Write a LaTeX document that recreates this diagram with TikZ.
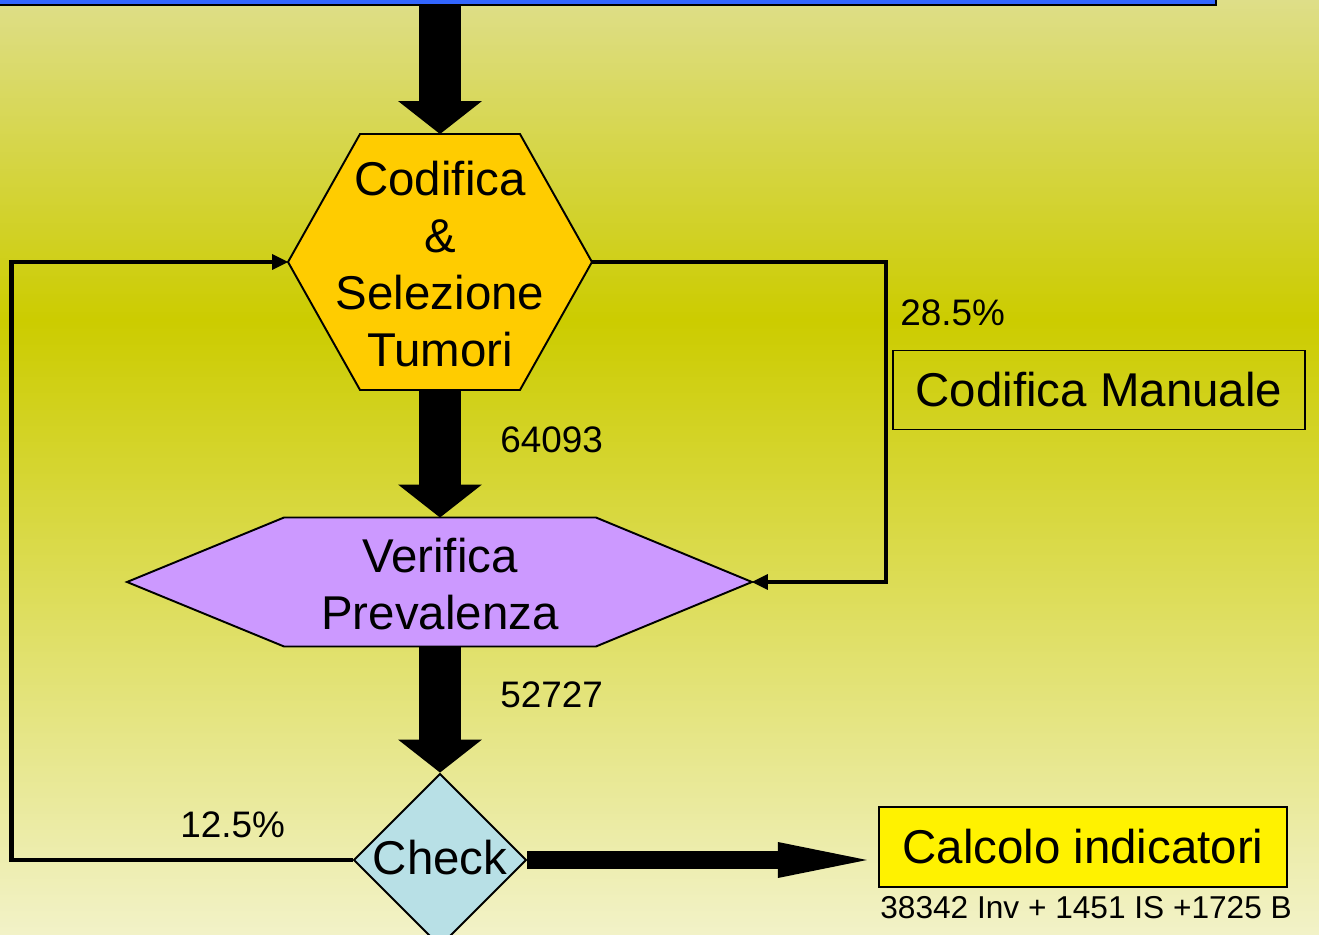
\documentclass[tikz,border=0pt]{standalone}
\usepackage{fontspec}
\setmainfont{Liberation Sans}
\usetikzlibrary{shapes.geometric,arrows.meta,positioning}

\definecolor{bgtop}{RGB}{222,222,136}
\definecolor{bgmid}{RGB}{204,204,0}
\definecolor{bgbot}{RGB}{242,242,200}
\definecolor{codfill}{RGB}{255,204,0}
\definecolor{verfill}{RGB}{204,153,255}
\definecolor{chkfill}{RGB}{184,224,230}
\definecolor{srcblue}{RGB}{51,102,255}

\tikzset{
  big/.style={font=\fontsize{27}{32.4}\selectfont, align=center, inner sep=0pt},
  small/.style={font=\fontsize{21}{25}\selectfont, inner sep=0pt, anchor=west},
  hexbox/.style={inner sep=0pt, outer sep=0pt},
  outline/.style={draw=black, line width=1.1pt},
  fat/.style={line width=0.84cm, -{Triangle[width=1.68cm,length=0.66cm,line width=0pt]}},
  fatside/.style={line width=0.38cm, -{Triangle[width=0.72cm,length=1.78cm,line width=0pt]}, shorten >=0.22cm},
  back/.style={line width=2.8pt, -{Triangle[width=0.32cm,length=0.32cm,line width=0pt]}},
}

\begin{document}
\begin{tikzpicture}[x=0.02cm, y=-0.02cm]
% Background
\clip (0,0) rectangle (1319,935);
\fill[top color=bgtop, bottom color=bgmid] (0,0) rectangle (1319,320);
\fill[top color=bgmid, bottom color=bgbot] (0,320) rectangle (1319,935);

% Source box (cut off at the top)
\node[draw=black, fill=srcblue, line width=1.2pt, minimum width=24.5cm, minimum height=1cm,
      inner sep=0pt, anchor=south west] (src) at (-10,6) {};

% Codifica & Selezione Tumori
\node[hexbox, minimum width=3.2cm, minimum height=5.12cm] (cod) at (440,262) {};
\path (cod.west) ++(-72,0) coordinate (codL);
\path (cod.east) ++(72,0) coordinate (codR);
\draw[outline, fill=codfill] (cod.north west) -- (cod.north east) -- (codR)
  -- (cod.south east) -- (cod.south west) -- (codL) -- cycle;
\node[big] (codT) at (440,264) {Codifica\\\&\\Selezione\\Tumori};

% Verifica Prevalenza
\node[hexbox, minimum width=6.24cm, minimum height=2.58cm] (ver) at (440,582) {};
\path (ver.west) ++(-157,0) coordinate (verL);
\path (ver.east) ++(156,0) coordinate (verR);
\draw[outline, fill=verfill] (ver.north west) -- (ver.north east) -- (verR)
  -- (ver.south east) -- (ver.south west) -- (verL) -- cycle;
\node[big] (verT) at (440,584) {Verifica\\Prevalenza};

% Check
\node[diamond, aspect=1, outline, fill=chkfill, minimum width=3.46cm, minimum height=3.46cm,
      inner sep=0pt] (chk) at (440,860) {};
\node[big] (chkT) at (440,858) {Check};

% Side boxes
\node[draw=black, line width=1.1pt, minimum width=8.24cm, minimum height=1.58cm, inner sep=0pt,
      font=\fontsize{27}{32.4}\selectfont] (man) at (1099,390) {Codifica Manuale};
\node[draw=black, fill=yellow, line width=1.3pt, minimum width=8.16cm, minimum height=1.6cm,
      inner sep=0pt, font=\fontsize{27}{32.4}\selectfont] (calc) at (1083,847) {Calcolo indicatori};

% Main flow
\draw[fat] (src.south -| cod.north) -- (cod.north);
\draw[fat] (cod.south) -- (ver.north);
\draw[fat] (ver.south) -- (chk.north);
\draw[fatside] (chk.east) -- (chk.east -| calc.west);

% Loops
\draw[back] (codR) -- ++(294,0) |- (verR);
\draw[back] (chk.west) -- ++(-341,0) |- (codL);

% Counts
\node[small] (n1) at (500,440) {64093};
\node[small] (n2) at (500,695) {52727};
\node[small] (p1) at (900,313) {28.5\%};
\node[small] (p2) at (180,825) {12.5\%};
\node[small, font=\fontsize{18}{22}\selectfont] (tot) at (880,908) {38342 Inv + 1451 IS +1725 B};
\end{tikzpicture}
\end{document}
